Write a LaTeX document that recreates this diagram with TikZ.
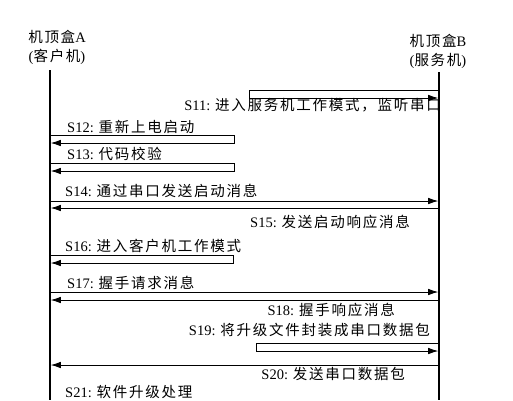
\documentclass[tikz,border=0pt]{standalone}
\usepackage{fontspec}
\setmainfont{Liberation Serif}
\newfontfamily\cjk{Noto Sans CJK SC}[LetterSpace=12]
\usetikzlibrary{arrows.meta}
\newcommand{\msgtext}[2]{#1: {\cjk #2}}
\tikzset{life/.style={ % lifeline of each box
			line width=1.6pt},
		msg/.style={
			draw,
			-{Latex[length=10pt,width=6.5pt]},
			shorten >=0.8pt,
			line width=0.75pt},
		lbl/.style={inner sep=0pt, font=\fontsize{14.5}{16}\selectfont}}

\begin{document}
\begin{tikzpicture}[x=1pt,y=-1pt]
			\useasboundingbox (0,0) rectangle (513,400);
			\node [lbl, align=center] (hA) at (57,47) {{\cjk 机顶盒}A\\[3pt]({\cjk 客户机})};
			\node [lbl, align=center] (hB) at (438,51) {{\cjk 机顶盒}B\\[3pt]({\cjk 服务机})};
			\coordinate (A0) at (50,70);
			\coordinate (A1) at (50,400);
			\coordinate (B0) at (439,72);
			\coordinate (B1) at (439,400);
			\draw [life] (A0) -- (A1) (B0) -- (B1);
			
			\foreach \n/\y in {11/90,11r/98,12/135,12r/143,13/163,13r/171,14/201,15/208,
					16/255,16r/263,17/292,18/300,19/343,19r/351,20/365} {
				\coordinate (a\n) at (50,\y);
				\coordinate (b\n) at (439,\y);
			}
			
			\draw [msg] (b11) -- ++(-190,0) |- (b11r);
			\draw [msg] (a12) -- ++(184,0) |- (a12r);
			\draw [msg] (a13) -- ++(184,0) |- (a13r);
			\draw [msg] (a14) -- (b14);
			\draw [msg] (b15) -- (a15);
			\draw [msg] (a16) -- ++(183,0) |- (a16r);
			\draw [msg] (a17) -- (b17);
			\draw [msg] (b18) -- (a18);
			\draw [msg] (b19) -- ++(-183,0) |- (b19r);
			\draw [msg] (b20) -- (a20);
			
			\node [lbl, anchor=east] (S11) at (441,105) {\msgtext{S11}{进入服务机工作模式，监听串口}};
			\node [lbl, anchor=west] (S12) at (67,127) {\msgtext{S12}{重新上电启动}};
			\node [lbl, anchor=west] (S13) at (67,154) {\msgtext{S13}{代码校验}};
			\node [lbl, anchor=west] (S14) at (65,191) {\msgtext{S14}{通过串口发送启动消息}};
			\node [lbl, anchor=east] (S15) at (410,222) {\msgtext{S15}{发送启动响应消息}};
			\node [lbl, anchor=west] (S16) at (65,246) {\msgtext{S16}{进入客户机工作模式}};
			\node [lbl, anchor=west] (S17) at (67,283) {\msgtext{S17}{握手请求消息}};
			\node [lbl, anchor=east] (S18) at (395,310) {\msgtext{S18}{握手响应消息}};
			\node [lbl, anchor=east] (S19) at (430,330) {\msgtext{S19}{将升级文件封装成串口数据包}};
			\node [lbl, anchor=east] (S20) at (405,374) {\msgtext{S20}{发送串口数据包}};
			\node [lbl, anchor=west] (S21) at (65,392) {\msgtext{S21}{软件升级处理}};
		\end{tikzpicture}
\end{document}
